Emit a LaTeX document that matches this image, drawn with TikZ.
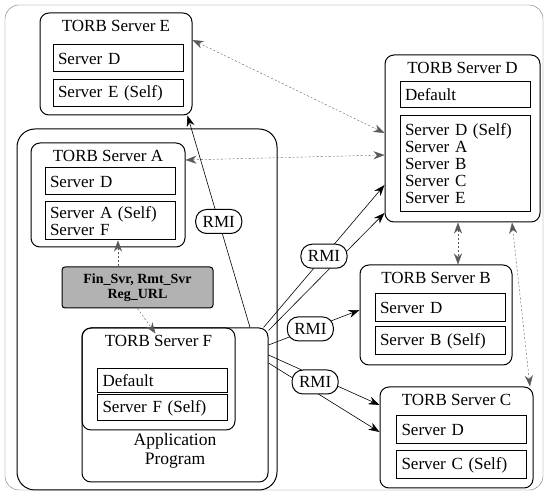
\documentclass[tikz,border=0pt]{standalone}
\usepackage{fontspec}
\setmainfont{Liberation Serif}
\usetikzlibrary{arrows.meta}
\tikzset{
  torb/.style={draw, line width=1pt, rounded corners=9pt},
  entry/.style={draw, line width=1pt, minimum width=130, text width=120pt, inner xsep=5pt, align=left},
  rmi/.style={draw, line width=1pt, fill=white, rounded corners=11pt, minimum height=24, inner xsep=7pt},
  link/.style={->, semithick},
  refer/.style={black!65, thin, dash pattern=on 2pt off 2pt},
}
\begin{document}
\begin{tikzpicture}[x=1pt, y={(0pt,-1pt)}, font=\fontsize{17}{17}\selectfont,
    >={Stealth[length=11pt,width=8pt]}]
  \useasboundingbox (0,0) rectangle (547,494);
  \draw[black!55, rounded corners=14pt] (5,5) rectangle (543,490);
  % application program
  \node[torb, rounded corners=18pt, minimum width=260, minimum height=361] (app) at (147,309.5) {};
  \node[torb, minimum width=186, minimum height=154] (prog) at (175,405) {};
  \node[align=center, font=\fontsize{17.5}{19}\selectfont] (progtxt) at (175,451) {Application\\ Program};
  % torb servers
  \foreach \n/\x/\y/\w/\h/\t in {srvE/116/64/152/102/E, srvA/108/195/154/104/A,
      srvF/158.5/379/153/102/F, srvD/462.5/138.5/155/167/D,
      srvB/436/315/152/100/B, srvC/456.5/437.5/153/101/C} {
    \node[torb, minimum width=\w, minimum height=\h] (\n) at (\x,\y) {};
    \node[anchor=north, yshift=-4pt] (\n title) at (\n.north) {TORB Server \t};
  }
  % name tables
  \foreach \n/\x/\y/\h/\t in {Ed/118/58.5/27/{Server D}, Es/118/93.5/27/{Server E (Self)},
      Ad/110/181.5/27/{Server D}, As/110/221/38/{Server A (Self)\\ Server F},
      Fd/162.5/381/24/{Default}, Fs/162.5/408/26/{Server F (Self)},
      Dd/465/95/26/{Default}, Ds/465/164/96/{Server D (Self)\\ Server A\\ Server B\\ Server C\\ Server E},
      Bd/440/307.5/28/{Server D}, Bs/440/341/28/{Server B (Self)},
      Cd/461.5/430/28/{Server D}, Cs/461.5/465/28/{Server C (Self)}} {
    \node[entry, minimum height=\h] (\n) at (\x,\y) {\t};
  }
  \node[draw, line width=1pt, fill=black!30, rounded corners=3pt, minimum width=151, minimum height=41,
    align=center, font=\fontsize{14}{15}\selectfont\bfseries] (reg) at (137.5,287.5) {Fin\_Svr, Rmt\_Svr\\ Reg\_URL};
  % rmi calls
  \draw[link] ([xshift=75]prog.north) -- node[rmi, pos=0.5] (rmiE) {RMI} ([xshift=-5]srvE.south east);
  \draw[link] ([yshift=-3]prog.north east) -- ([yshift=-74.5]srvD.west);
  \draw[link] ([xshift=-5]prog.north east) -- node[rmi, pos=0.5] (rmiD) {RMI} ([yshift=-46.5]srvD.west);
  \draw[link] ([yshift=60]prog.east) -- node[rmi, pos=0.46] (rmiB) {RMI} ([yshift=5]srvB.west);
  \draw[link] ([yshift=42]prog.east) -- ([yshift=5.5]srvC.west);
  \draw[link] ([yshift=50]prog.east) -- node[rmi, pos=0.42, yshift=-6pt] (rmiC) {RMI} ([yshift=32.5]srvC.west);
  % references
  \draw[refer, <->] ([yshift=24]srvE.east) -- ([yshift=5.5]srvD.west);
  \draw[refer, <->] ([yshift=35]srvA.east) -- ([yshift=-16.5]srvD.west);
  \draw[refer, <->] ([xshift=-4.5]srvD.south) -- ([xshift=22]srvB.north);
  \draw[refer, <->] ([xshift=49.5]srvD.south) -- ([xshift=73.5]srvC.north);
  \draw[refer, ->] ([xshift=-19.5]reg.north) -- ([xshift=8]As.south);
  \draw[refer, ->] (reg.south) -- ([xshift=-3,yshift=-6]srvF.north);
\end{tikzpicture}
\end{document}
